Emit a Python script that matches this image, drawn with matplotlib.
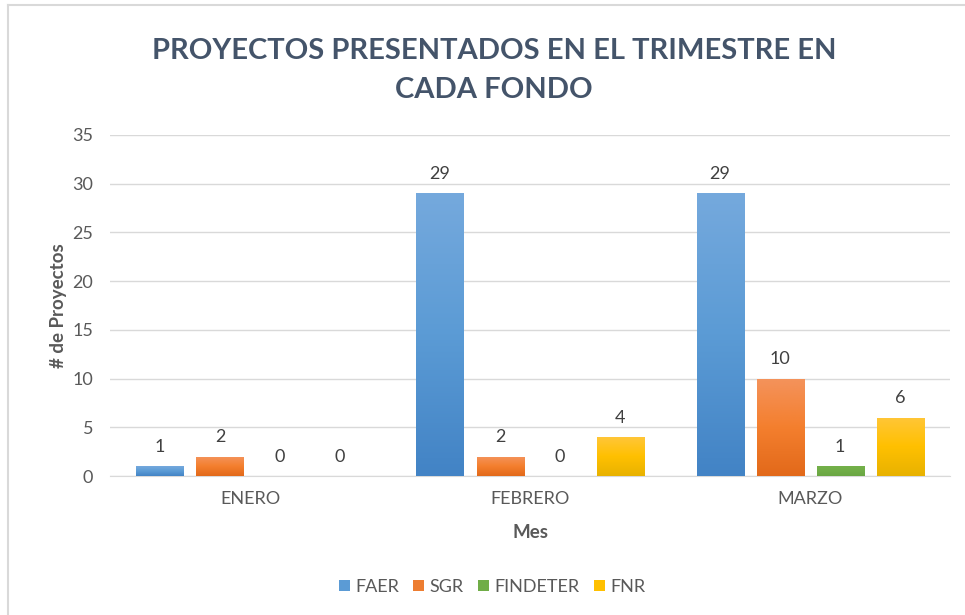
import matplotlib
matplotlib.use("Agg")
import matplotlib.pyplot as plt
import numpy as np
from matplotlib.patches import Patch
from matplotlib.colors import LinearSegmentedColormap
from matplotlib.lines import Line2D

plt.rcParams['font.family'] = ['Lato', 'DejaVu Sans']

# data
meses = ['ENERO', 'FEBRERO', 'MARZO']
fondos = ['FAER', 'SGR', 'FINDETER', 'FNR']
faer = [1, 29, 29]
sgr = [2, 2, 10]
findeter = [0, 0, 1]
fnr = [0, 4, 6]

# (top, middle, bottom) gradient colours per series
grad_colors = {
    'FAER': ('#75A9DD', '#5B9BD5', '#4283C5'),
    'SGR': ('#F4935C', '#F47F2E', '#E2691A'),
    'FINDETER': ('#74B04A', '#70AD47', '#6AA643'),
    'FNR': ('#FFC638', '#FFC000', '#E8B200'),
}
legend_colors = {'FAER': '#5B9BD5', 'SGR': '#ED7D31',
                 'FINDETER': '#70AD47', 'FNR': '#FFC000'}

fig = plt.figure(figsize=(9.65, 6.15), dpi=100)
ax = fig.add_axes([0.114, 0.226, 0.8705, 0.5545])

x = np.arange(len(meses))
step = 0.2143
width = 0.168
series = [faer, sgr, findeter, fnr]

for i, (name, vals) in enumerate(zip(fondos, series)):
    pos = x + (i - 1.5) * step
    bars = ax.bar(pos, vals, width, color='none', edgecolor='none', zorder=3)
    cmap = LinearSegmentedColormap.from_list(name, list(grad_colors[name])[::-1])
    grad = np.linspace(0, 1, 256).reshape(-1, 1)
    for b in bars:
        h = b.get_height()
        if h <= 0:
            continue
        x0 = b.get_x()
        im = ax.imshow(grad, extent=[x0, x0 + width, 0, h], origin='lower',
                       aspect='auto', cmap=cmap, zorder=3)
        im.set_clip_path(b)
    ax.bar_label(bars, padding=8, fontsize=13, color='#404040')

ax.set_xlim(-0.5, 2.5)
ax.set_ylim(0, 35)
ax.set_yticks(range(0, 36, 5))
ax.set_xticks(x)
ax.set_xticklabels(meses)
ax.grid(axis='y', color='#D9D9D9', linewidth=1, zorder=0)
ax.set_axisbelow(True)
for s in ['top', 'right', 'left']:
    ax.spines[s].set_visible(False)
ax.spines['bottom'].set_color('#D9D9D9')
ax.tick_params(axis='both', length=0, labelsize=13, labelcolor='#595959')
ax.tick_params(axis='y', pad=12)
ax.tick_params(axis='x', pad=11)

ax.set_xlabel('Mes', fontsize=13.5, fontweight='bold', color='#595959', labelpad=12)
ax.set_ylabel('# de Proyectos', fontsize=13.5, fontweight='bold', color='#595959', labelpad=4)

fig.text(0.512, 0.885, 'PROYECTOS PRESENTADOS EN EL TRIMESTRE EN\nCADA FONDO',
         ha='center', va='center', fontsize=21, fontweight='bold',
         color='#44546A', linespacing=1.6)

handles = [Patch(facecolor=legend_colors[f], edgecolor='none', label=f) for f in fondos]
fig.legend(handles=handles, loc='center', bbox_to_anchor=(0.51, 0.046), ncol=4,
           frameon=False, fontsize=13, labelcolor='#595959', handlelength=0.6,
           handleheight=0.6, handletextpad=0.3, columnspacing=0.8)

# light frame of the chart area
fig.add_artist(Line2D([0.008, 0.008], [0, 0.992], color='#D9D9D9', lw=1.5,
                      transform=fig.transFigure))
fig.add_artist(Line2D([0.008, 1], [0.992, 0.992], color='#D9D9D9', lw=1.5,
                      transform=fig.transFigure))

fig.savefig('out.png', dpi=100)
